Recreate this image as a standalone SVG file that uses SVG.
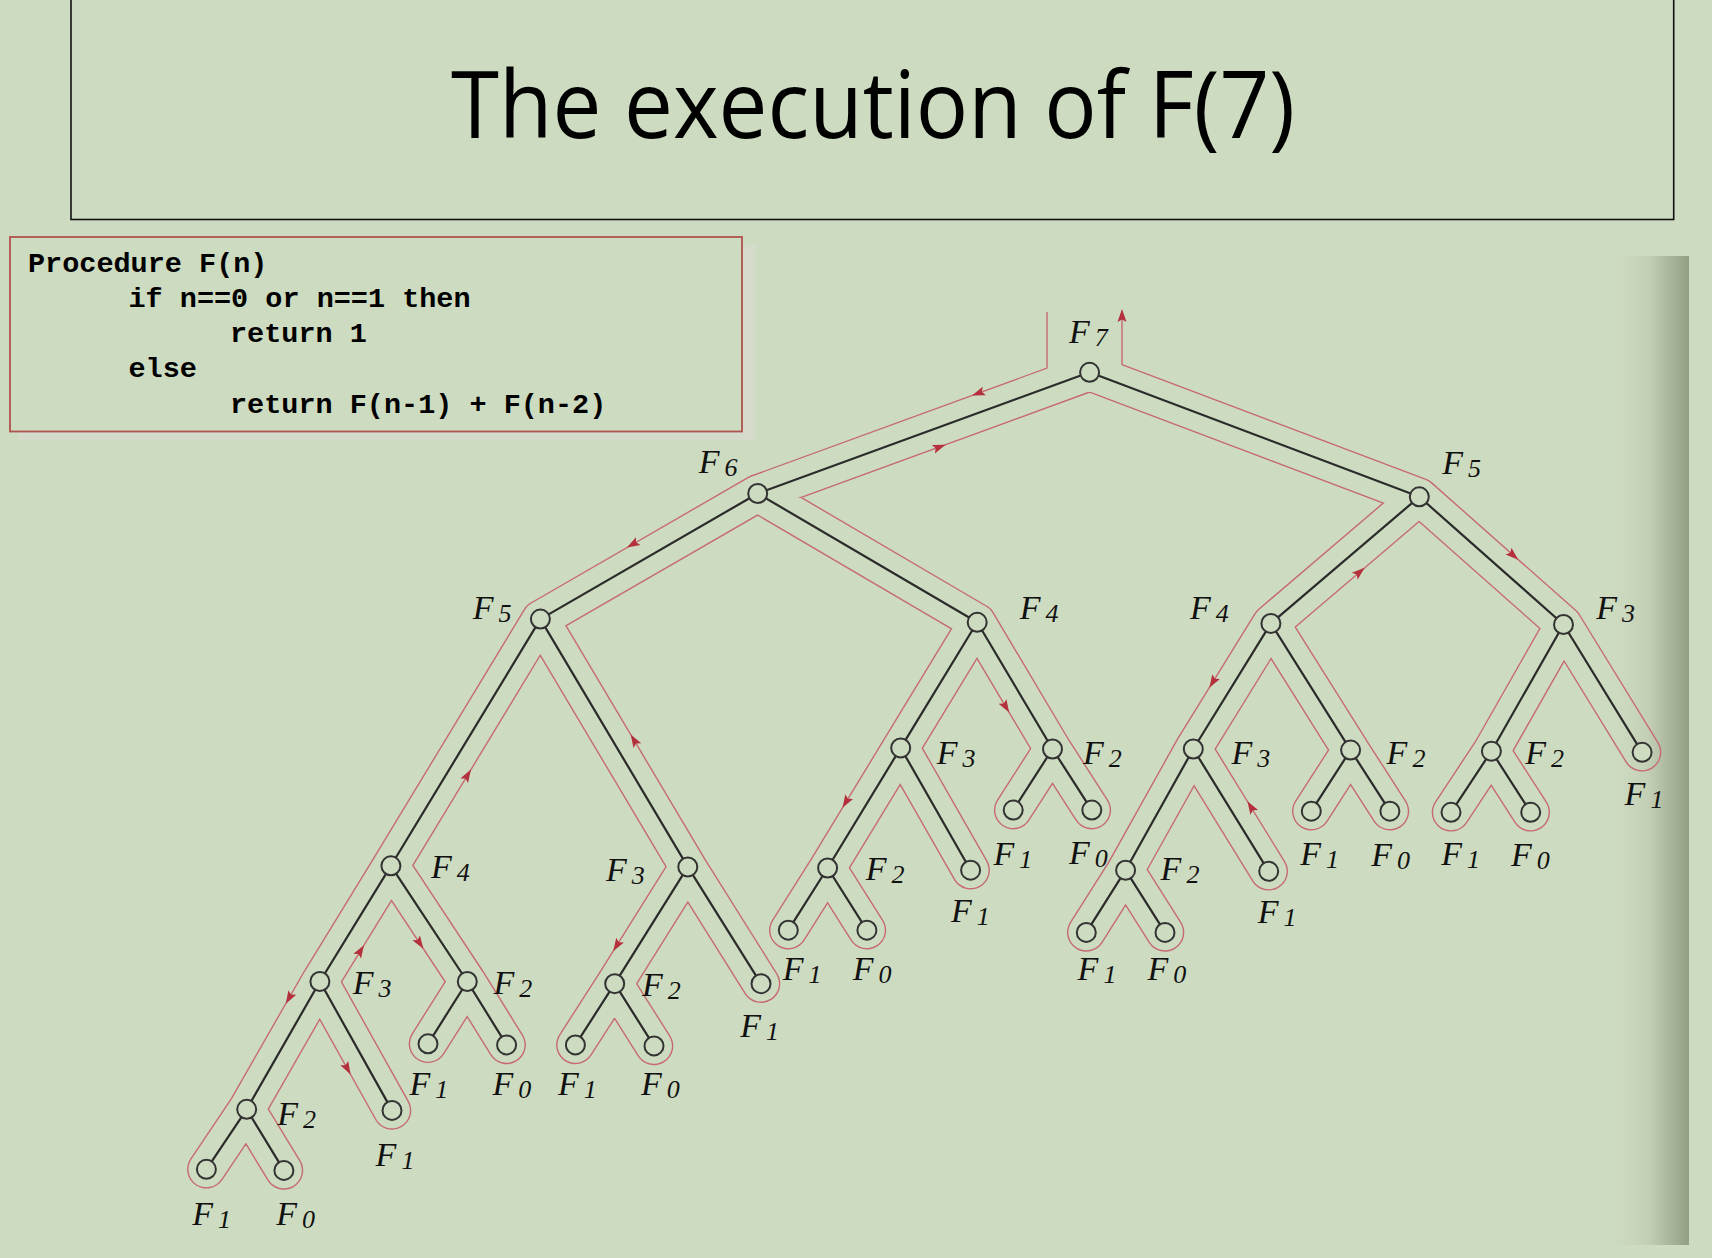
<svg xmlns="http://www.w3.org/2000/svg" width="1712" height="1258" viewBox="0 0 1712 1258">
<style>
.lbl{font-family:"Liberation Serif","DejaVu Serif",serif;font-style:italic;font-size:34px;fill:#111}
.sub{font-size:26px}
.node circle{fill:#cddbc0;stroke:#333;stroke-width:2}
.code{font-family:"Liberation Mono","DejaVu Sans Mono",monospace;font-weight:bold;font-size:28.5px;fill:#000}
.title{font-family:"Open Sans","Liberation Sans",sans-serif;font-size:93px;fill:#000}
</style>
<defs>
<linearGradient id="edgeGrad" x1="0" y1="0" x2="1" y2="0">
<stop offset="0" stop-color="#cddbc0" stop-opacity="0"/>
<stop offset="0.55" stop-color="#c3cfb5"/>
<stop offset="1" stop-color="#939f83"/>
</linearGradient>
<path id="tree" fill="none" stroke-linecap="round" stroke-linejoin="round" d="M757.7,493.5 L1089.6,372.3 L1419.3,496.8 M540.4,619.1 L757.7,493.5 L977.2,622.3 M1270.9,623.4 L1419.3,496.8 L1563.5,624.5 M390.9,865.8 L540.4,619.1 L687.8,866.9 M319.9,981.5 L390.9,865.8 L467.3,981.5 M246.7,1109.3 L319.9,981.5 L392,1110.4 M206.4,1169.3 L246.7,1109.3 L283.9,1170.4 M428,1043.8 L467.3,981.5 L506.6,1044.9 M614.7,983.7 L687.8,866.9 L761,983.7 M575.4,1044.9 L614.7,983.7 L654,1045.9 M900.7,747.9 L977.2,622.3 L1052.5,749 M827.6,868 L900.7,747.9 L970.6,870.2 M788.3,930.2 L827.6,868 L866.9,930.2 M1013.2,810.1 L1052.5,749 L1091.8,810.1 M1193.3,749 L1270.9,623.4 L1350.6,750.1 M1125.6,870.2 L1193.3,749 L1268.7,871.3 M1086.3,932.4 L1125.6,870.2 L1165,932.4 M1311.3,811.2 L1350.6,750.1 L1389.9,811.2 M1491.4,751.2 L1563.5,624.5 L1642.1,752.3 M1451,812.3 L1491.4,751.2 L1530.7,812.3"/>
<path id="stem" fill="none" stroke-linecap="butt" d="M1084.5,250 L1084.5,372"/>
<mask id="contourMask" maskUnits="userSpaceOnUse" x="0" y="0" width="1712" height="1258">
<use href="#tree" stroke="#fff" stroke-width="38.6"/>
<use href="#stem" stroke="#fff" stroke-width="76.4"/>
<use href="#tree" stroke="#000" stroke-width="35.8"/>
<use href="#stem" stroke="#000" stroke-width="73.6"/>
</mask>
<path id="ah" d="M7,0 L-6,-4.5 L-3.5,0 L-6,4.5 Z" fill="#b3303c"/>
</defs>

<rect x="0" y="0" width="1712" height="1258" fill="#cddbc0"/>
<rect x="1600" y="256" width="89" height="989" fill="url(#edgeGrad)"/>

<g id="title">
<rect x="71" y="-5" width="1602.7" height="224.5" fill="none" stroke="#111" stroke-width="1.6"/>
<text class="title" x="451" y="138" textLength="844" lengthAdjust="spacingAndGlyphs">The execution of F(7)</text>
</g>

<g id="code">
<rect x="18" y="245" width="738" height="195" fill="#d4dbcb"/>
<rect x="10" y="237" width="732" height="194.5" fill="#cddbc0" stroke="#b0524d" stroke-width="1.8"/>
<text class="code" x="28" y="271.5">Procedure F(n)</text>
<text class="code" x="128.5" y="307">if n==0 or n==1 then</text>
<text class="code" x="230" y="342">return 1</text>
<text class="code" x="128.5" y="376.5">else</text>
<text class="code" x="230" y="412.5">return F(n-1) + F(n-2)</text>
</g>

<g id="connectors">
<rect x="0" y="312" width="1712" height="946" fill="#c66a70" mask="url(#contourMask)"/>
<use href="#tree" stroke="#2b2b2b" stroke-width="2.2"/>
<g id="arrows">
<use href="#ah" transform="translate(978.6,393) rotate(159.9)"/>
<use href="#ah" transform="translate(939,447.1) rotate(-20.1)"/>
<use href="#ah" transform="translate(1122,316) rotate(-90)"/>
<use href="#ah" transform="translate(633,544.1) rotate(150)"/>
<use href="#ah" transform="translate(1513,555) rotate(41.5)"/>
<use href="#ah" transform="translate(467.3,775.6) rotate(-58.8)"/>
<use href="#ah" transform="translate(634.3,740.5) rotate(-120.7)"/>
<use href="#ah" transform="translate(289.3,997.6) rotate(119.8)"/>
<use href="#ah" transform="translate(360.3,951.1) rotate(-58.5)"/>
<use href="#ah" transform="translate(419.5,942.9) rotate(56.6)"/>
<use href="#ah" transform="translate(347.2,1068.4) rotate(60.8)"/>
<use href="#ah" transform="translate(616.9,945.2) rotate(122)"/>
<use href="#ah" transform="translate(846.1,801.8) rotate(121.3)"/>
<use href="#ah" transform="translate(1005.6,706.6) rotate(59.3)"/>
<use href="#ah" transform="translate(1213,681.7) rotate(121.7)"/>
<use href="#ah" transform="translate(1251.1,807.3) rotate(-121.7)"/>
<use href="#ah" transform="translate(1359.3,572.3) rotate(-40.5)"/>
</g>
</g>

<g id="nodes">
<g id="n-F7" class="node"><circle cx="1089.6" cy="372.3" r="9.5"/><text class="lbl" x="1069" y="343">F<tspan class="sub" dx="5" dy="3">7</tspan></text></g>
<g id="n-F6" class="node"><circle cx="757.7" cy="493.5" r="9.5"/><text class="lbl" x="698.7" y="472.7">F<tspan class="sub" dx="5" dy="3">6</tspan></text></g>
<g id="n-F5r" class="node"><circle cx="1419.3" cy="496.8" r="9.5"/><text class="lbl" x="1442.3" y="473.8">F<tspan class="sub" dx="5" dy="3">5</tspan></text></g>
<g id="n-F5l" class="node"><circle cx="540.4" cy="619.1" r="9.5"/><text class="lbl" x="472.7" y="619.1">F<tspan class="sub" dx="5" dy="3">5</tspan></text></g>
<g id="n-F4a" class="node"><circle cx="977.2" cy="622.3" r="9.5"/><text class="lbl" x="1019.7" y="619">F<tspan class="sub" dx="5" dy="3">4</tspan></text></g>
<g id="n-F4b" class="node"><circle cx="1270.9" cy="623.4" r="9.5"/><text class="lbl" x="1190" y="619">F<tspan class="sub" dx="5" dy="3">4</tspan></text></g>
<g id="n-F3a" class="node"><circle cx="1563.5" cy="624.5" r="9.5"/><text class="lbl" x="1596.2" y="619">F<tspan class="sub" dx="5" dy="3">3</tspan></text></g>
<g id="n-F4c" class="node"><circle cx="390.9" cy="865.8" r="9.5"/><text class="lbl" x="431" y="877.5">F<tspan class="sub" dx="5" dy="3">4</tspan></text></g>
<g id="n-F3b" class="node"><circle cx="687.8" cy="866.9" r="9.5"/><text class="lbl" x="606" y="881">F<tspan class="sub" dx="5" dy="3">3</tspan></text></g>
<g id="n-F3c" class="node"><circle cx="319.9" cy="981.5" r="9.5"/><text class="lbl" x="352.7" y="993.5">F<tspan class="sub" dx="5" dy="3">3</tspan></text></g>
<g id="n-F2a" class="node"><circle cx="467.3" cy="981.5" r="9.5"/><text class="lbl" x="493.5" y="993.5">F<tspan class="sub" dx="5" dy="3">2</tspan></text></g>
<g id="n-F2b" class="node"><circle cx="246.7" cy="1109.3" r="9.5"/><text class="lbl" x="277.3" y="1124.6">F<tspan class="sub" dx="5" dy="3">2</tspan></text></g>
<g id="n-F1a" class="node"><circle cx="392" cy="1110.4" r="9.5"/><text class="lbl" x="375.6" y="1166">F<tspan class="sub" dx="5" dy="3">1</tspan></text></g>
<g id="n-F1b" class="node"><circle cx="206.4" cy="1169.3" r="9.5"/><text class="lbl" x="192.2" y="1225">F<tspan class="sub" dx="5" dy="3">1</tspan></text></g>
<g id="n-F0b" class="node"><circle cx="283.9" cy="1170.4" r="9.5"/><text class="lbl" x="276.2" y="1225">F<tspan class="sub" dx="5" dy="3">0</tspan></text></g>
<g id="n-F1c" class="node"><circle cx="428" cy="1043.8" r="9.5"/><text class="lbl" x="409.4" y="1095">F<tspan class="sub" dx="5" dy="3">1</tspan></text></g>
<g id="n-F0c" class="node"><circle cx="506.6" cy="1044.9" r="9.5"/><text class="lbl" x="492.4" y="1095">F<tspan class="sub" dx="5" dy="3">0</tspan></text></g>
<g id="n-F2c" class="node"><circle cx="614.7" cy="983.7" r="9.5"/><text class="lbl" x="642" y="995.7">F<tspan class="sub" dx="5" dy="3">2</tspan></text></g>
<g id="n-F1d" class="node"><circle cx="761" cy="983.7" r="9.5"/><text class="lbl" x="740.2" y="1037.2">F<tspan class="sub" dx="5" dy="3">1</tspan></text></g>
<g id="n-F1e" class="node"><circle cx="575.4" cy="1044.9" r="9.5"/><text class="lbl" x="557.9" y="1095">F<tspan class="sub" dx="5" dy="3">1</tspan></text></g>
<g id="n-F0e" class="node"><circle cx="654" cy="1045.9" r="9.5"/><text class="lbl" x="640.9" y="1095">F<tspan class="sub" dx="5" dy="3">0</tspan></text></g>
<g id="n-F3d" class="node"><circle cx="900.7" cy="747.9" r="9.5"/><text class="lbl" x="936.8" y="764.3">F<tspan class="sub" dx="5" dy="3">3</tspan></text></g>
<g id="n-F2d" class="node"><circle cx="1052.5" cy="749" r="9.5"/><text class="lbl" x="1083" y="764.3">F<tspan class="sub" dx="5" dy="3">2</tspan></text></g>
<g id="n-F2e" class="node"><circle cx="827.6" cy="868" r="9.5"/><text class="lbl" x="865.8" y="880">F<tspan class="sub" dx="5" dy="3">2</tspan></text></g>
<g id="n-F1f" class="node"><circle cx="970.6" cy="870.2" r="9.5"/><text class="lbl" x="951" y="921.5">F<tspan class="sub" dx="5" dy="3">1</tspan></text></g>
<g id="n-F1g" class="node"><circle cx="788.3" cy="930.2" r="9.5"/><text class="lbl" x="782.8" y="980.4">F<tspan class="sub" dx="5" dy="3">1</tspan></text></g>
<g id="n-F0g" class="node"><circle cx="866.9" cy="930.2" r="9.5"/><text class="lbl" x="852.7" y="980.4">F<tspan class="sub" dx="5" dy="3">0</tspan></text></g>
<g id="n-F1h" class="node"><circle cx="1013.2" cy="810.1" r="9.5"/><text class="lbl" x="993.5" y="864.7">F<tspan class="sub" dx="5" dy="3">1</tspan></text></g>
<g id="n-F0h" class="node"><circle cx="1091.8" cy="810.1" r="9.5"/><text class="lbl" x="1068.9" y="863.6">F<tspan class="sub" dx="5" dy="3">0</tspan></text></g>
<g id="n-F3e" class="node"><circle cx="1193.3" cy="749" r="9.5"/><text class="lbl" x="1231.5" y="764.3">F<tspan class="sub" dx="5" dy="3">3</tspan></text></g>
<g id="n-F2f" class="node"><circle cx="1350.6" cy="750.1" r="9.5"/><text class="lbl" x="1386.6" y="764.3">F<tspan class="sub" dx="5" dy="3">2</tspan></text></g>
<g id="n-F2g" class="node"><circle cx="1125.6" cy="870.2" r="9.5"/><text class="lbl" x="1160.6" y="880">F<tspan class="sub" dx="5" dy="3">2</tspan></text></g>
<g id="n-F1i" class="node"><circle cx="1268.7" cy="871.3" r="9.5"/><text class="lbl" x="1257.8" y="922.6">F<tspan class="sub" dx="5" dy="3">1</tspan></text></g>
<g id="n-F1j" class="node"><circle cx="1086.3" cy="932.4" r="9.5"/><text class="lbl" x="1077.6" y="980.4">F<tspan class="sub" dx="5" dy="3">1</tspan></text></g>
<g id="n-F0j" class="node"><circle cx="1165" cy="932.4" r="9.5"/><text class="lbl" x="1147.5" y="980.4">F<tspan class="sub" dx="5" dy="3">0</tspan></text></g>
<g id="n-F1k" class="node"><circle cx="1311.3" cy="811.2" r="9.5"/><text class="lbl" x="1300.3" y="864.7">F<tspan class="sub" dx="5" dy="3">1</tspan></text></g>
<g id="n-F0k" class="node"><circle cx="1389.9" cy="811.2" r="9.5"/><text class="lbl" x="1371.3" y="865.8">F<tspan class="sub" dx="5" dy="3">0</tspan></text></g>
<g id="n-F2h" class="node"><circle cx="1491.4" cy="751.2" r="9.5"/><text class="lbl" x="1525.2" y="764.3">F<tspan class="sub" dx="5" dy="3">2</tspan></text></g>
<g id="n-F1l" class="node"><circle cx="1642.1" cy="752.3" r="9.5"/><text class="lbl" x="1624.6" y="804.7">F<tspan class="sub" dx="5" dy="3">1</tspan></text></g>
<g id="n-F1m" class="node"><circle cx="1451" cy="812.3" r="9.5"/><text class="lbl" x="1441.2" y="864.7">F<tspan class="sub" dx="5" dy="3">1</tspan></text></g>
<g id="n-F0m" class="node"><circle cx="1530.7" cy="812.3" r="9.5"/><text class="lbl" x="1511" y="865.8">F<tspan class="sub" dx="5" dy="3">0</tspan></text></g>
</g>
</svg>
